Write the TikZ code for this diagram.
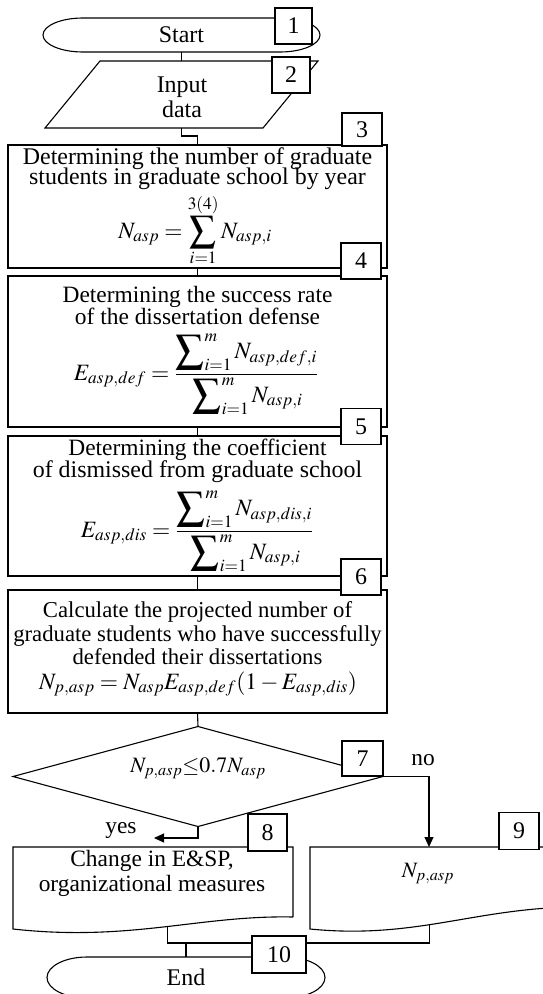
\documentclass[tikz,border=0pt]{standalone}
\usepackage{mathptmx}
\usepackage{amsmath}
\usepackage{fontspec}
\setmainfont{Liberation Serif}
\usetikzlibrary{arrows.meta}
\newcommand\fsz{\fontsize{23.5}{24}\selectfont}
\newcommand\fsb{\fontsize{24}{24}\selectfont}
\newcommand\fss{\fontsize{22.8}{24}\selectfont}
\newcommand\nst{\rule[-3bp]{0pt}{3bp}}
\newcommand\dst{\rule{0pt}{25bp}}
\newcommand\bigsum{\mathop{\vcenter{\hbox{\scalebox{1.2}{$\displaystyle\sum$}}}}}
\newcommand\midsum{\mathop{\vcenter{\hbox{\scalebox{1.12}{$\displaystyle\sum$}}}}}
\begin{document}
\begin{tikzpicture}[x=1bp,y=-1bp, line width=1.1bp,
  every node/.style={font=\fsz, inner sep=0pt, outer sep=0pt},
  boxs/.style={draw, minimum width=379bp},
  lbl/.style={draw, fill=white, minimum width=40bp, minimum height=36bp, font=\fsb},
  txt/.style={anchor=base},
  arr/.style={-{Triangle[length=10bp,width=9bp]}}]
\clip (0,0) rectangle (543,994);
\fill[white] (0,0) rectangle (543,994);

% Start terminal
\node[minimum width=277bp, minimum height=34bp, font=\fsb] (start) at (181.5,35) {Start};
\draw ([xshift=40bp]start.north west) -- ([xshift=-40bp]start.north east)
  arc[start angle=90,end angle=-90,x radius=40bp,y radius=17bp]
  -- ([xshift=40bp]start.south west)
  arc[start angle=270,end angle=90,x radius=40bp,y radius=17bp] -- cycle;

% Input parallelogram
\node[minimum width=273bp, minimum height=67bp] (input) at (181.5,94.5) {};
\draw ([xshift=55bp]input.north west) -- (input.north east)
  -- ([xshift=-55bp]input.south east) -- (input.south west) -- cycle;
\node[txt, font=\fsb] (tin1) at (182,92) {Input};
\node[txt, font=\fsb] (tin2) at (182,117) {data};

% Process boxes
\node[boxs, minimum height=123bp] (b3) at (197.5,206.5) {};
\node[boxs, minimum height=151bp] (b4) at (197.5,351.5) {};
\node[boxs, minimum height=140bp] (b5) at (197.5,506) {};
\node[boxs, minimum height=123bp] (b6) at (197.5,651.5) {};

\node[txt, font=\fsb] (t3a) at (197.5,164) {Determining the number of graduate};
\node[txt, font=\fsb] (t3b) at (197.5,184.5) {students in graduate school by year};
\node[txt] (f3) at (195,238) {$\displaystyle N_{asp}=\midsum_{i=1}^{3(4)}N_{asp,i}$};

\node[txt] (t4a) at (197.5,302) {Determining the success rate};
\node[txt] (t4b) at (197.5,324) {of the dissertation defense};
\node[txt] (f4) at (196,380) {$\displaystyle E_{asp,def}=\frac{\bigsum\nolimits_{i=1}^{m}N_{asp,def,i}\nst}{\dst\bigsum\nolimits_{i=1}^{m}N_{asp,i}}$};

\node[txt] (t5a) at (197.5,455) {Determining the coefficient};
\node[txt, font=\fsb] (t5b) at (197.5,477) {of dismissed from graduate school};
\node[txt] (f5) at (197,537) {$\displaystyle E_{asp,dis}=\frac{\bigsum\nolimits_{i=1}^{m}N_{asp,dis,i}\nst}{\dst\bigsum\nolimits_{i=1}^{m}N_{asp,i}}$};

\node[txt, font=\fss] (t6a) at (197.5,617) {Calculate the projected number of};
\node[txt, font=\fss] (t6b) at (197.5,641) {graduate students who have successfully};
\node[txt, font=\fss] (t6c) at (197.5,664) {defended their dissertations};
\node[txt] (f6) at (198,689) {$N_{p,asp}=N_{asp}E_{asp,def}(1-E_{asp,dis})$};

% Decision
\node[minimum width=370bp, minimum height=100bp] (dec) at (198,776.5) {};
\draw (dec.north) -- (dec.east) -- (dec.south) -- (dec.west) -- cycle;
\node[txt, font=\fontsize{22}{22}\selectfont] (tdec) at (198,772) {$N_{p,asp}{\le}0.7N_{asp}$};

% Document boxes
\node[minimum width=280bp, minimum height=82bp] (b8) at (153,888) {};
\draw ([yshift=12bp]b8.south east) -- (b8.north east) -- (b8.north west) -- (b8.south west)
  .. controls (130,942) and (200,915) .. ([yshift=12bp]b8.south east) coordinate[pos=0.52] (b8c);
\node[txt] (t8a) at (152,866) {Change in E\&SP,};
\node[txt] (t8b) at (152,891) {organizational measures};

\node[minimum width=280bp, minimum height=82bp] (b9) at (450,888) {};
\draw ([yshift=22bp]b9.south east) -- (b9.north east) -- (b9.north west) -- (b9.south west)
  .. controls (420,940) and (480,905) .. ([yshift=22bp]b9.south east) coordinate[pos=0.42] (b9c);
\node[txt, font=\fontsize{22}{22}\selectfont] (t9) at (428,877) {$N_{p,asp}$};
\coordinate (b9in) at (429,847);

% End terminal
\node[minimum width=278bp, minimum height=41bp, font=\fsb] (end) at (186,977.5) {End};
\draw ([xshift=40bp]end.north west) -- ([xshift=-40bp]end.north east)
  arc[start angle=90,end angle=-90,x radius=40bp,y radius=20.5bp]
  -- ([xshift=40bp]end.south west)
  arc[start angle=270,end angle=90,x radius=40bp,y radius=20.5bp] -- cycle;

% Connectors
\draw (start.south) -- (start.south |- input.north);
\draw (input.south) -- ++(0,8) -| (b3.north);
\draw (b3.south) -- (b4.north);
\draw (b4.south) -- (b5.north);
\draw (b5.south) -- (b6.north);
\draw (b6.south) -- (dec.north);
\draw[arr] (dec.east) -| (b9in);
\coordinate (yesend) at (154,838);
\draw[arr] (dec.south) |- (yesend);
\coordinate (bus) at (0,943);
\draw (b8c) -- (b8c |- bus) -- (b9c |- bus) -- (b9c);
\draw (end.north |- bus) -- (end.north);

\node[txt] (tyes) at (121,833) {yes};
\node[txt] (tno) at (423,765) {no};

% Labels
\node[lbl, minimum width=37bp] (l1) at (293.5,26) {1};
\node[lbl, minimum width=38bp] (l2) at (291,75) {2};
\node[lbl, minimum height=33bp] (l3) at (362,129.5) {3};
\node[lbl] (l4) at (361,261) {4};
\node[lbl] (l5) at (361,426.5) {5};
\node[lbl] (l6) at (361,577) {6};
\node[lbl, minimum width=41bp, minimum height=35bp] (l7) at (362.5,758.5) {7};
\node[lbl, minimum width=39bp, minimum height=37bp] (l8) at (267.5,832.5) {8};
\node[lbl, minimum height=37bp] (l9) at (519,831) {9};
\node[lbl, minimum width=54bp, minimum height=37bp] (l10) at (279,954.5) {10};
\end{tikzpicture}
\end{document}
